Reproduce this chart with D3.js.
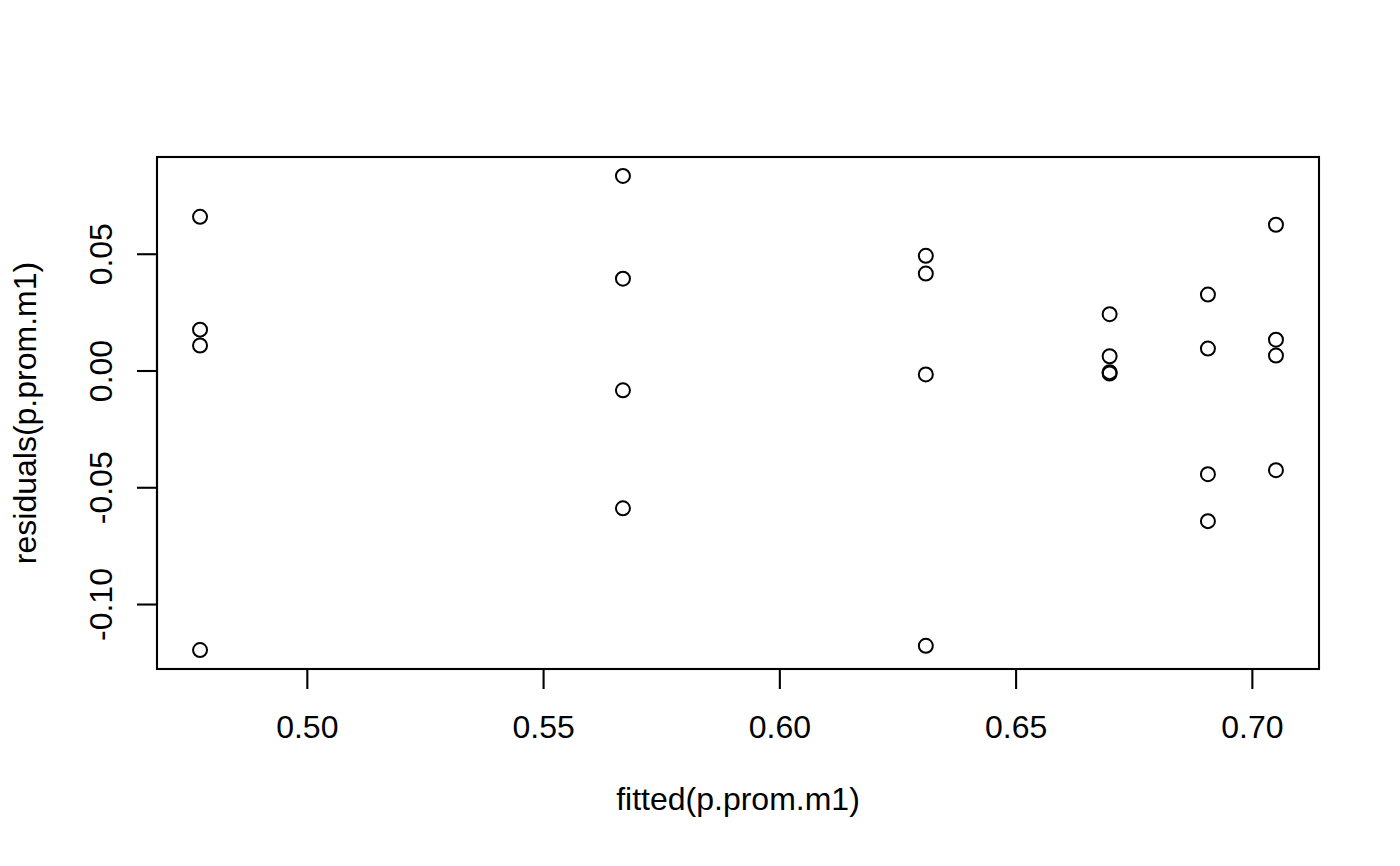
<!DOCTYPE html>
<html>
<head>
<meta charset="utf-8">
<script src="https://cdn.jsdelivr.net/npm/d3@7"></script>
<style>
  html, body { margin: 0; padding: 0; background: #fff; }
  svg { display: block; }
  text { font-family: "Liberation Sans", Arial, sans-serif; fill: #000; }
</style>
</head>
<body>
<svg id="chart" width="1400" height="866"></svg>
<script>
// Data
const fittedValues = [
  0.4774, 0.4774, 0.4774, 0.4774,
  0.5669, 0.5669, 0.5669, 0.5669,
  0.6310, 0.6310, 0.6310, 0.6310,
  0.6699, 0.6699, 0.6699, 0.6699,
  0.6907, 0.6907, 0.6907, 0.6907,
  0.7051, 0.7051, 0.7051, 0.7051
];
const residualValues = [
  0.0658, 0.0175, 0.0107, -0.1197,
  0.0833, 0.0393, -0.0085, -0.0590,
  0.0491, 0.0415, -0.0017, -0.1179,
  0.0241, 0.0061, -0.0007, -0.0013,
  0.0325, 0.0094, -0.0444, -0.0645,
  0.0624, 0.0132, 0.0064, -0.0427
];
const xTicks = [0.50, 0.55, 0.60, 0.65, 0.70];
const yTicks = [-0.10, -0.05, 0.00, 0.05];
const xTitle = "fitted(p.prom.m1)";
const yTitle = "residuals(p.prom.m1)";

const W = 1400, H = 866;
const plot = { left: 157, right: 1319, top: 157, bottom: 669 };
const fontSize = 32;
const lw = 2.1;

function rExtend(ext) {
  const d = (ext[1] - ext[0]) * 0.04;
  return [ext[0] - d, ext[1] + d];
}

const x = d3.scaleLinear().domain(rExtend(d3.extent(fittedValues))).range([plot.left, plot.right]);
const y = d3.scaleLinear().domain(rExtend(d3.extent(residualValues))).range([plot.bottom, plot.top]);

const svg = d3.select("#chart");
const points = fittedValues.map((f, i) => ({ f, r: residualValues[i] }));

// Points
svg.append("g").selectAll("circle").data(points).join("circle")
  .attr("cx", d => x(d.f))
  .attr("cy", d => y(d.r))
  .attr("r", 7)
  .attr("fill", "none")
  .attr("stroke", "#000")
  .attr("stroke-width", 2);

// Box
svg.append("rect")
  .attr("x", plot.left).attr("y", plot.top)
  .attr("width", plot.right - plot.left).attr("height", plot.bottom - plot.top)
  .attr("fill", "none").attr("stroke", "#000").attr("stroke-width", lw);

// X axis
const xAxis = d3.axisBottom(x).tickValues(xTicks).tickSize(20).tickPadding(0)
  .tickFormat(d3.format(".2f"));
const gx = svg.append("g").attr("transform", `translate(0,${plot.bottom})`).call(xAxis);
gx.select(".domain").attr("stroke-width", lw).attr("d", `M${x(xTicks[0])},0H${x(xTicks[xTicks.length-1])}`);
gx.selectAll(".tick line").attr("stroke-width", lw);
gx.selectAll(".tick text")
  .attr("font-size", fontSize)
  .attr("font-family", "Liberation Sans, Arial, sans-serif")
  .attr("dy", null)
  .attr("y", 738 - plot.bottom);

// Y axis
const yAxis = d3.axisLeft(y).tickValues(yTicks).tickSize(20).tickPadding(0)
  .tickFormat(d => d3.format(".2f")(d).replace("−", "-"));
const gy = svg.append("g").attr("transform", `translate(${plot.left},0)`).call(yAxis);
gy.select(".domain").attr("stroke-width", lw).attr("d", `M0,${y(yTicks[0])}V${y(yTicks[yTicks.length-1])}`);
gy.selectAll(".tick line").attr("stroke-width", lw);
gy.selectAll(".tick text")
  .attr("font-size", fontSize)
  .attr("font-family", "Liberation Sans, Arial, sans-serif")
  .attr("text-anchor", "middle")
  .attr("x", null).attr("dy", null)
  .attr("transform", `translate(${112 - plot.left},0) rotate(-90)`);

// Titles
svg.append("text")
  .attr("x", (plot.left + plot.right) / 2).attr("y", 810)
  .attr("text-anchor", "middle").attr("font-size", fontSize)
  .text(xTitle);
svg.append("text")
  .attr("transform", `translate(36,${(plot.top + plot.bottom) / 2}) rotate(-90)`)
  .attr("text-anchor", "middle").attr("font-size", fontSize)
  .text(yTitle);
</script>
</body>
</html>
